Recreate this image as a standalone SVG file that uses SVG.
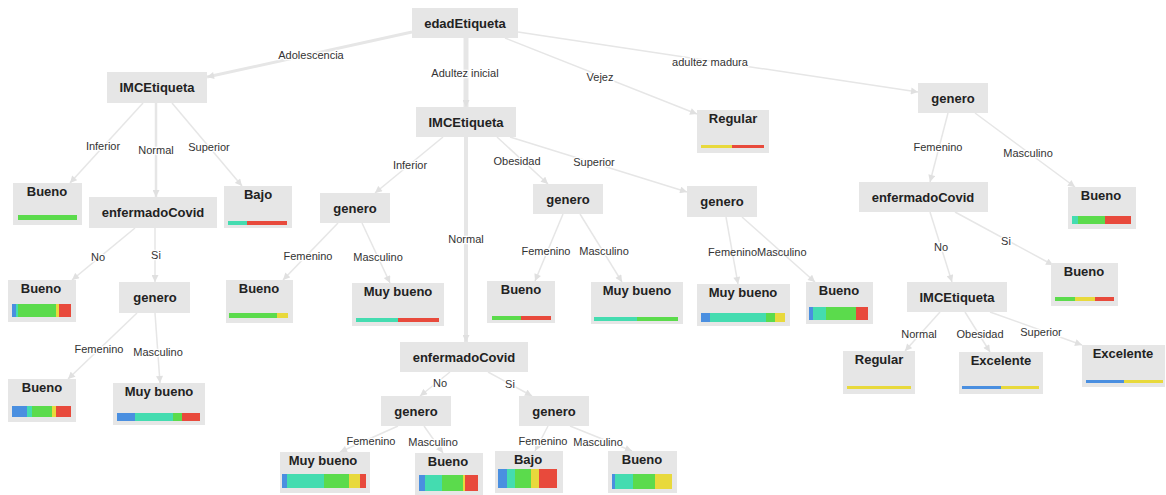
<svg xmlns="http://www.w3.org/2000/svg" width="1166" height="495" viewBox="0 0 1166 495">
  <style>
    .node rect.box { fill: #e6e6e6; }
    .title { font-family: "Liberation Sans", Arial, sans-serif; font-size: 13px; font-weight: bold; fill: #222; text-anchor: middle; }
    .edge { stroke: #e6e6e6; stroke-width: 1.5; fill: none; marker-end: url(#arrow); }
    .lbl { font-family: "Liberation Sans", Arial, sans-serif; font-size: 11px; fill: #333; text-anchor: middle; paint-order: stroke; stroke: #fff; stroke-width: 2.5px; stroke-linejoin: round; }
    .lbl.plain { stroke: none; }
    .b { fill: #4a8fe0; } .t { fill: #44dcb0; } .g { fill: #5bdb4c; } .y { fill: #e8d93c; } .r { fill: #e84a3c; }
  </style>
  <defs>
    <marker id="arrow" viewBox="0 0 10 10" refX="10" refY="5" markerWidth="8" markerHeight="7" markerUnits="userSpaceOnUse" orient="auto">
      <path d="M0,0 L10,5 L0,10 z" fill="#e0e0e0"/>
    </marker>
  </defs>
  <rect width="1166" height="495" fill="#fff"/>

  <!-- connectors -->
  <g id="edges">
    <line class="edge" x1="412" y1="32" x2="207" y2="77" style="stroke-width:3"/>
    <line class="edge" x1="466" y1="38" x2="466" y2="107" style="stroke-width:5"/>
    <line class="edge" x1="505" y1="38" x2="697" y2="114"/>
    <line class="edge" x1="518" y1="32" x2="918" y2="92"/>
    <line class="edge" x1="143" y1="103" x2="70" y2="183"/>
    <line class="edge" x1="156" y1="103" x2="156" y2="197" style="stroke-width:2.5"/>
    <line class="edge" x1="172" y1="103" x2="242" y2="186"/>
    <line class="edge" x1="135" y1="228" x2="72" y2="280"/>
    <line class="edge" x1="155" y1="228" x2="155" y2="282"/>
    <line class="edge" x1="137" y1="313" x2="68" y2="379"/>
    <line class="edge" x1="155" y1="313" x2="160" y2="383"/>
    <line class="edge" x1="443" y1="137" x2="375" y2="193"/>
    <line class="edge" x1="466" y1="137" x2="466" y2="342" style="stroke-width:4"/>
    <line class="edge" x1="497" y1="137" x2="548" y2="184"/>
    <line class="edge" x1="510" y1="137" x2="687" y2="192"/>
    <line class="edge" x1="338" y1="223" x2="283" y2="280"/>
    <line class="edge" x1="362" y1="223" x2="390" y2="283"/>
    <line class="edge" x1="563" y1="214" x2="535" y2="281"/>
    <line class="edge" x1="580" y1="214" x2="622" y2="282"/>
    <line class="edge" x1="726" y1="217" x2="738" y2="284"/>
    <line class="edge" x1="742" y1="217" x2="815" y2="282"/>
    <line class="edge" x1="450" y1="372" x2="420" y2="396"/>
    <line class="edge" x1="488" y1="372" x2="532" y2="396"/>
    <line class="edge" x1="398" y1="426" x2="340" y2="452"/>
    <line class="edge" x1="424" y1="426" x2="443" y2="453"/>
    <line class="edge" x1="548" y1="426" x2="535" y2="451"/>
    <line class="edge" x1="570" y1="426" x2="632" y2="451"/>
    <line class="edge" x1="948" y1="113" x2="930" y2="182"/>
    <line class="edge" x1="975" y1="113" x2="1075" y2="187"/>
    <line class="edge" x1="930" y1="212" x2="952" y2="282"/>
    <line class="edge" x1="955" y1="212" x2="1053" y2="265"/>
    <line class="edge" x1="940" y1="312" x2="905" y2="351"/>
    <line class="edge" x1="965" y1="312" x2="990" y2="352"/>
    <line class="edge" x1="990" y1="312" x2="1082" y2="345"/>

    <text class="lbl" x="311" y="59">Adolescencia</text>
    <text class="lbl" x="465" y="77">Adultez inicial</text>
    <text class="lbl" x="600" y="81">Vejez</text>
    <text class="lbl" x="710" y="66">adultez madura</text>
    <text class="lbl" x="103" y="150">Inferior</text>
    <text class="lbl" x="156" y="154">Normal</text>
    <text class="lbl" x="209" y="151">Superior</text>
    <text class="lbl" x="98" y="261">No</text>
    <text class="lbl" x="156" y="259">Si</text>
    <text class="lbl" x="99" y="353">Femenino</text>
    <text class="lbl" x="158" y="356">Masculino</text>
    <text class="lbl" x="410" y="169">Inferior</text>
    <text class="lbl" x="466" y="243">Normal</text>
    <text class="lbl" x="517" y="165">Obesidad</text>
    <text class="lbl" x="594" y="166">Superior</text>
    <text class="lbl" x="308" y="260">Femenino</text>
    <text class="lbl" x="378" y="261">Masculino</text>
    <text class="lbl" x="546" y="255">Femenino</text>
    <text class="lbl" x="604" y="255">Masculino</text>
    <text class="lbl plain" x="757" y="256" style="text-anchor:end">Femenino</text>
    <text class="lbl plain" x="757" y="256" style="text-anchor:start">Masculino</text>
    <text class="lbl" x="440" y="387">No</text>
    <text class="lbl" x="510" y="388">Si</text>
    <text class="lbl" x="371" y="445">Femenino</text>
    <text class="lbl" x="433" y="446">Masculino</text>
    <text class="lbl" x="543" y="445">Femenino</text>
    <text class="lbl" x="598" y="446">Masculino</text>
    <text class="lbl" x="938" y="151">Femenino</text>
    <text class="lbl" x="1028" y="157">Masculino</text>
    <text class="lbl" x="941" y="251">No</text>
    <text class="lbl" x="1006" y="245">Si</text>
    <text class="lbl" x="919" y="338">Normal</text>
    <text class="lbl" x="980" y="338">Obesidad</text>
    <text class="lbl" x="1041" y="336">Superior</text>
  </g>

  <!-- decision nodes -->
  <g id="n-edad" class="node"><rect class="box" x="412" y="8" width="106" height="30"/><text class="title" x="465" y="28">edadEtiqueta</text></g>
  <g id="n-imc-a" class="node"><rect class="box" x="107" y="72" width="100" height="31"/><text class="title" x="157" y="92">IMCEtiqueta</text></g>
  <g id="n-imc-b" class="node"><rect class="box" x="416" y="107" width="100" height="30"/><text class="title" x="466" y="127">IMCEtiqueta</text></g>
  <g id="n-gen-d" class="node"><rect class="box" x="918" y="83" width="70" height="30"/><text class="title" x="953" y="103">genero</text></g>
  <g id="n-cov-a" class="node"><rect class="box" x="89" y="197" width="128" height="31"/><text class="title" x="153" y="217">enfermadoCovid</text></g>
  <g id="n-gen-a1" class="node"><rect class="box" x="119" y="282" width="71" height="31"/><text class="title" x="155" y="302">genero</text></g>
  <g id="n-gen-b1" class="node"><rect class="box" x="320" y="193" width="70" height="30"/><text class="title" x="355" y="213">genero</text></g>
  <g id="n-gen-b2" class="node"><rect class="box" x="533" y="184" width="70" height="30"/><text class="title" x="568" y="204">genero</text></g>
  <g id="n-gen-b3" class="node"><rect class="box" x="687" y="186" width="70" height="31"/><text class="title" x="722" y="206">genero</text></g>
  <g id="n-cov-b" class="node"><rect class="box" x="400" y="342" width="128" height="30"/><text class="title" x="464" y="362">enfermadoCovid</text></g>
  <g id="n-gen-b4" class="node"><rect class="box" x="381" y="396" width="70" height="30"/><text class="title" x="416" y="416">genero</text></g>
  <g id="n-gen-b5" class="node"><rect class="box" x="519" y="396" width="70" height="30"/><text class="title" x="554" y="416">genero</text></g>
  <g id="n-cov-d" class="node"><rect class="box" x="859" y="182" width="129" height="30"/><text class="title" x="923" y="202">enfermadoCovid</text></g>
  <g id="n-imc-d" class="node"><rect class="box" x="907" y="282" width="100" height="30"/><text class="title" x="957" y="302">IMCEtiqueta</text></g>

  <!-- leaf nodes with class distribution bars -->
  <g id="l-a1" class="node"><rect class="box" x="13" y="183" width="69" height="42"/><text class="title" x="47" y="196">Bueno</text>
    <rect class="g" x="18" y="215" width="59" height="5"/></g>
  <g id="l-a2" class="node"><rect class="box" x="224" y="186" width="68" height="42"/><text class="title" x="258" y="199">Bajo</text>
    <rect class="t" x="228" y="221" width="19" height="4"/><rect class="r" x="247" y="221" width="40" height="4"/></g>
  <g id="l-a3" class="node"><rect class="box" x="8" y="280" width="68" height="42"/><text class="title" x="41" y="293">Bueno</text>
    <rect class="b" x="12" y="304" width="4" height="13"/><rect class="t" x="16" y="304" width="2" height="13"/><rect class="g" x="18" y="304" width="38" height="13"/><rect class="y" x="56" y="304" width="3" height="13"/><rect class="r" x="59" y="304" width="12" height="13"/></g>
  <g id="l-a4" class="node"><rect class="box" x="8" y="379" width="68" height="43"/><text class="title" x="42" y="392">Bueno</text>
    <rect class="b" x="12" y="406" width="15" height="11"/><rect class="t" x="27" y="406" width="5" height="11"/><rect class="g" x="32" y="406" width="20" height="11"/><rect class="y" x="52" y="406" width="4" height="11"/><rect class="r" x="56" y="406" width="15" height="11"/></g>
  <g id="l-a5" class="node"><rect class="box" x="113" y="383" width="92" height="42"/><text class="title" x="159" y="396">Muy bueno</text>
    <rect class="b" x="117" y="413" width="18" height="8"/><rect class="t" x="135" y="413" width="38" height="8"/><rect class="g" x="173" y="413" width="9" height="8"/><rect class="r" x="182" y="413" width="18" height="8"/></g>
  <g id="l-b1" class="node"><rect class="box" x="226" y="280" width="67" height="43"/><text class="title" x="259" y="293">Bueno</text>
    <rect class="g" x="229" y="313" width="48" height="5"/><rect class="y" x="277" y="313" width="11" height="5"/></g>
  <g id="l-b2" class="node"><rect class="box" x="352" y="283" width="92" height="43"/><text class="title" x="398" y="296">Muy bueno</text>
    <rect class="t" x="356" y="318" width="42" height="4"/><rect class="r" x="398" y="318" width="41" height="4"/></g>
  <g id="l-b3" class="node"><rect class="box" x="487" y="281" width="68" height="42"/><text class="title" x="521" y="294">Bueno</text>
    <rect class="g" x="492" y="316" width="29" height="4"/><rect class="r" x="521" y="316" width="30" height="4"/></g>
  <g id="l-b4" class="node"><rect class="box" x="591" y="282" width="92" height="42"/><text class="title" x="637" y="295">Muy bueno</text>
    <rect class="t" x="594" y="317" width="43" height="4"/><rect class="g" x="637" y="317" width="41" height="4"/></g>
  <g id="l-b5" class="node"><rect class="box" x="697" y="284" width="93" height="42"/><text class="title" x="743" y="297">Muy bueno</text>
    <rect class="b" x="701" y="313" width="9" height="9"/><rect class="t" x="710" y="313" width="56" height="9"/><rect class="g" x="766" y="313" width="9" height="9"/><rect class="y" x="775" y="313" width="10" height="9"/></g>
  <g id="l-b6" class="node"><rect class="box" x="806" y="282" width="67" height="42"/><text class="title" x="839" y="295">Bueno</text>
    <rect class="b" x="809" y="307" width="4" height="13"/><rect class="t" x="813" y="307" width="13" height="13"/><rect class="g" x="826" y="307" width="30" height="13"/><rect class="r" x="856" y="307" width="12" height="13"/></g>
  <g id="l-b7" class="node"><rect class="box" x="280" y="452" width="90" height="41"/><text class="title" x="323" y="465">Muy bueno</text>
    <rect class="b" x="282" y="474" width="5" height="14"/><rect class="t" x="287" y="474" width="37" height="14"/><rect class="g" x="324" y="474" width="25" height="14"/><rect class="y" x="349" y="474" width="11" height="14"/><rect class="r" x="360" y="474" width="6" height="14"/></g>
  <g id="l-b8" class="node"><rect class="box" x="415" y="453" width="68" height="42"/><text class="title" x="448" y="466">Bueno</text>
    <rect class="b" x="419" y="475" width="6" height="16"/><rect class="t" x="425" y="475" width="17" height="16"/><rect class="g" x="442" y="475" width="21" height="16"/><rect class="y" x="463" y="475" width="2" height="16"/><rect class="r" x="465" y="475" width="13" height="16"/></g>
  <g id="l-b9" class="node"><rect class="box" x="495" y="451" width="68" height="42"/><text class="title" x="528" y="464">Bajo</text>
    <rect class="b" x="498" y="469" width="9" height="19"/><rect class="t" x="507" y="469" width="8" height="19"/><rect class="g" x="515" y="469" width="16" height="19"/><rect class="y" x="531" y="469" width="8" height="19"/><rect class="r" x="539" y="469" width="18" height="19"/></g>
  <g id="l-b10" class="node"><rect class="box" x="608" y="451" width="69" height="42"/><text class="title" x="642" y="464">Bueno</text>
    <rect class="b" x="612" y="474" width="3" height="15"/><rect class="t" x="615" y="474" width="18" height="15"/><rect class="g" x="633" y="474" width="22" height="15"/><rect class="y" x="655" y="474" width="17" height="15"/></g>
  <g id="l-c1" class="node"><rect class="box" x="697" y="110" width="72" height="43"/><text class="title" x="733" y="123">Regular</text>
    <rect class="y" x="701" y="145" width="31" height="3"/><rect class="r" x="732" y="145" width="32" height="3"/></g>
  <g id="l-d1" class="node"><rect class="box" x="1068" y="187" width="68" height="42"/><text class="title" x="1101" y="200">Bueno</text>
    <rect class="t" x="1072" y="216" width="6" height="8"/><rect class="g" x="1078" y="216" width="27" height="8"/><rect class="r" x="1105" y="216" width="26" height="8"/></g>
  <g id="l-d2" class="node"><rect class="box" x="1051" y="263" width="67" height="43"/><text class="title" x="1084" y="276">Bueno</text>
    <rect class="g" x="1055" y="297" width="20" height="4"/><rect class="y" x="1075" y="297" width="20" height="4"/><rect class="r" x="1095" y="297" width="19" height="4"/></g>
  <g id="l-d3" class="node"><rect class="box" x="843" y="351" width="72" height="43"/><text class="title" x="879" y="364">Regular</text>
    <rect class="y" x="847" y="386" width="64" height="3"/></g>
  <g id="l-d4" class="node"><rect class="box" x="959" y="352" width="84" height="42"/><text class="title" x="1001" y="365">Excelente</text>
    <rect class="b" x="962" y="386" width="39" height="3"/><rect class="y" x="1001" y="386" width="38" height="3"/></g>
  <g id="l-d5" class="node"><rect class="box" x="1082" y="345" width="83" height="42"/><text class="title" x="1123" y="358">Excelente</text>
    <rect class="b" x="1086" y="380" width="38" height="3"/><rect class="y" x="1124" y="380" width="39" height="3"/></g>
</svg>
